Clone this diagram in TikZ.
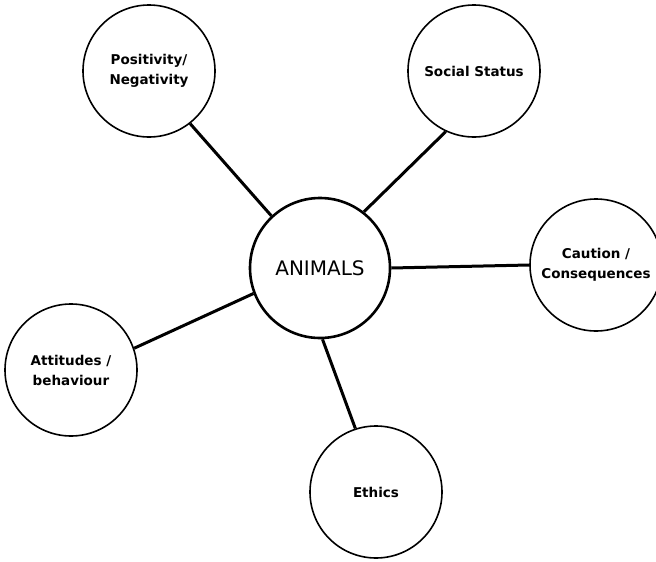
\documentclass[tikz,border=0pt]{standalone}
\usepackage{fontspec}
\setmainfont{DejaVu Sans}
\begin{document}
\begin{tikzpicture}[x=1pt,y=-1pt,
	topic/.style={circle,draw,line width=1.6pt,minimum size=132pt,inner sep=0pt,align=center,font=\bfseries\fontsize{13.5}{20}\selectfont},
	hub/.style={circle,draw,line width=2.6pt,minimum size=140pt,inner sep=0pt,font=\fontsize{20}{20}\selectfont},
	link/.style={line width=3pt}]
	
	\useasboundingbox (0,0) rectangle (656,562);
	
	% Mitte
	\node[hub] (animals) at (320,268) {ANIMALS};
	
	% Themen rundherum
	\node[topic] (posneg) at (149,71) {Positivity/\\Negativity};
	\node[topic] (status) at (474,71) {Social Status};
	\node[topic] (caution) at (596,265) {Caution /\\Consequences};
	\node[topic] (attitudes) at (71,370) {Attitudes /\\behaviour};
	\node[topic] (ethics) at (376,492) {Ethics};
	
	% Verbindungen
	\draw[link] (posneg.308) -- (animals.133);
	\draw[link] (status.245) -- (animals.52);
	\draw[link] (caution.west) -- (animals.east);
	\draw[link] (attitudes.19) -- (animals.201);
	\draw[link] (ethics.108) -- (animals.272);
	
\end{tikzpicture}
\end{document}
